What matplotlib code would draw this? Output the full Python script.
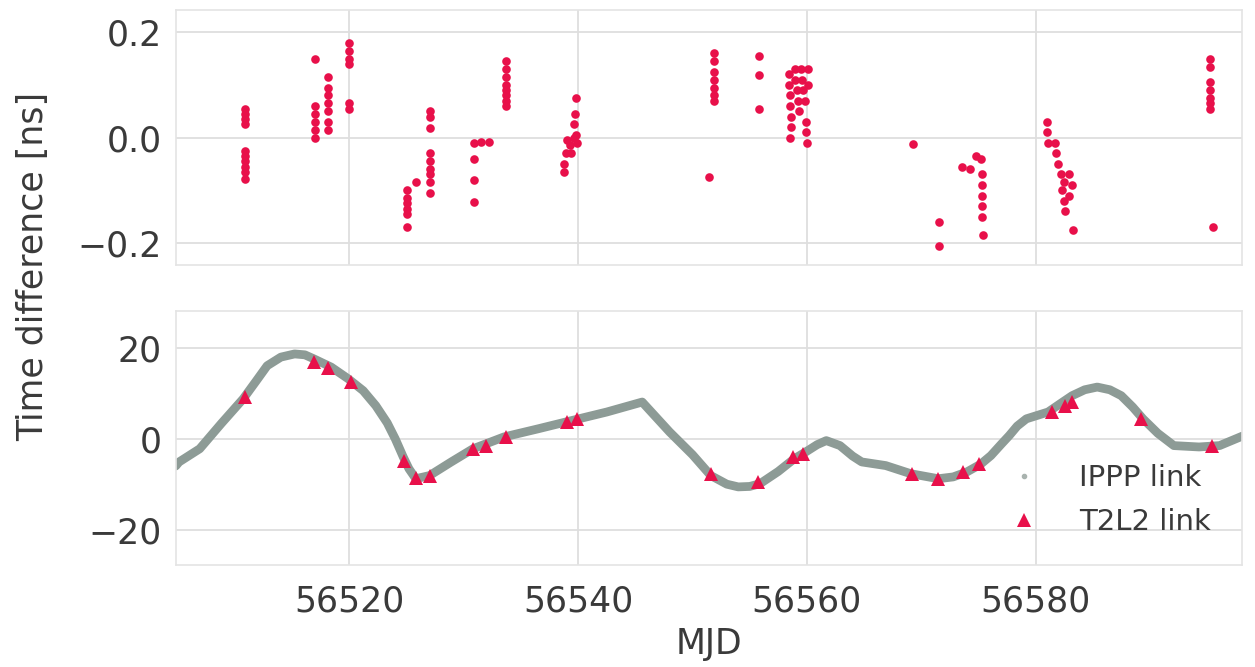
import matplotlib
matplotlib.use("Agg")
import matplotlib.pyplot as plt
import seaborn as sns
from matplotlib.lines import Line2D

sns.set_style("whitegrid")
plt.rcParams['font.family'] = ['DejaVu Sans']

# ---- top panel: T2L2 - IPPP residuals (ns) ----
top_mjd = [
    56510.9, 56510.9, 56510.9, 56510.9, 56510.9, 56510.9, 56510.9, 56510.9, 56510.9, 56510.9,
    56517.0, 56517.0, 56517.0, 56517.0, 56517.0, 56517.0,
    56518.1, 56518.1, 56518.1, 56518.1, 56518.1, 56518.1, 56518.1,
    56520.0, 56520.0, 56520.0, 56520.0, 56520.0, 56520.0,
    56525.0, 56525.0, 56525.0, 56525.0, 56525.0, 56525.0, 56525.8,
    56527.0, 56527.0, 56527.0, 56527.0, 56527.0, 56527.0, 56527.0, 56527.0, 56527.0,
    56530.9, 56530.9, 56530.9, 56530.9, 56531.5, 56532.2,
    56533.7, 56533.7, 56533.7, 56533.7, 56533.7, 56533.7, 56533.7, 56533.7,
    56539.8, 56539.7, 56539.6, 56539.8, 56539.0, 56539.3, 56539.9, 56538.9, 56538.8, 56538.8, 56539.4, 56539.6,
    56551.9, 56551.9, 56551.9, 56551.9, 56551.9, 56551.9, 56551.9, 56551.4,
    56555.8, 56555.8, 56555.8,
    56558.4, 56558.4, 56558.5, 56558.5, 56558.6, 56558.6, 56558.5, 56559.0, 56559.0, 56559.1,
    56559.2, 56559.3, 56559.5, 56559.6, 56559.7, 56559.8, 56559.9, 56560.0, 56559.9, 56560.1, 56560.1,
    56569.3,
    56571.6, 56571.6,
    56573.6, 56574.3, 56574.8, 56575.2, 56575.3, 56575.3, 56575.3, 56575.3, 56575.3, 56575.4,
    56581.0, 56581.0, 56581.1, 56581.7, 56581.8, 56582.0, 56582.2, 56582.5, 56582.9, 56582.3,
    56582.5, 56582.9, 56582.6, 56583.2, 56583.3,
    56595.3, 56595.3, 56595.3, 56595.3, 56595.3, 56595.3, 56595.3, 56595.5,
]
top_val = [
    0.055, 0.045, 0.035, 0.025, -0.025, -0.035, -0.045, -0.055, -0.065, -0.078,
    0.150, 0.060, 0.045, 0.030, 0.015, 0.000,
    0.115, 0.095, 0.080, 0.065, 0.050, 0.030, 0.015,
    0.180, 0.165, 0.150, 0.140, 0.065, 0.055,
    -0.100, -0.115, -0.125, -0.135, -0.145, -0.170, -0.085,
    0.050, 0.040, 0.018, -0.030, -0.045, -0.060, -0.070, -0.085, -0.105,
    -0.010, -0.040, -0.080, -0.122, -0.008, -0.008,
    0.145, 0.130, 0.115, 0.100, 0.090, 0.080, 0.070, 0.060,
    0.075, 0.045, 0.025, 0.005, -0.005, -0.015, -0.010, -0.030, -0.050, -0.065, -0.030, 0.000,
    0.160, 0.145, 0.125, 0.110, 0.095, 0.080, 0.070, -0.075,
    0.155, 0.118, 0.055,
    0.120, 0.100, 0.080, 0.060, 0.040, 0.020, 0.000, 0.130, 0.110, 0.090,
    0.070, 0.050, 0.130, 0.110, 0.090, 0.070, 0.030, -0.010, 0.010, 0.130, 0.100,
    -0.012,
    -0.160, -0.205,
    -0.055, -0.060, -0.035, -0.040, -0.070, -0.090, -0.110, -0.130, -0.150, -0.185,
    0.030, 0.010, -0.010, -0.010, -0.030, -0.050, -0.070, -0.085, -0.070, -0.100,
    -0.120, -0.110, -0.140, -0.090, -0.175,
    0.150, 0.135, 0.105, 0.090, 0.075, 0.065, 0.055, -0.170,
]

# ---- bottom panel: IPPP link curve and T2L2 link points (ns) ----
ippp_mjd = [56504.8, 56505.1, 56506.9, 56508.8, 56510.7, 56511.8, 56512.8, 56514.0, 56515.2,
            56516.1, 56516.9, 56518.4, 56519.9, 56521.2, 56522.3, 56523.3, 56524.0, 56524.7,
            56525.2, 56525.8, 56527.0, 56528.9, 56530.8, 56533.5, 56536.5, 56539.4, 56542.5,
            56545.6, 56548.0, 56550.0, 56551.6, 56553.0, 56554.0, 56555.0, 56555.9, 56557.5,
            56558.9, 56559.9, 56560.9, 56561.7, 56562.9, 56564.0, 56564.8, 56566.9, 56569.1,
            56571.5, 56572.8, 56574.0, 56575.2, 56576.1, 56577.0, 56577.7, 56578.4, 56579.2,
            56581.1, 56582.2, 56583.2, 56584.3, 56585.4, 56586.5, 56587.5, 56588.5, 56589.4,
            56590.7, 56592.1, 56594.3, 56596.1, 56598.1]
ippp_val = [-6.0, -5.1, -2.2, 3.4, 8.8, 12.6, 16.1, 18.0, 18.7,
            18.5, 17.6, 15.8, 13.2, 10.6, 7.3, 3.5, 0.0, -4.0,
            -6.6, -8.8, -8.1, -5.1, -2.2, 0.4, 2.2, 4.0, 5.9,
            8.1, 1.5, -3.5, -8.1, -10.0, -10.6, -10.5, -9.9, -7.2,
            -4.4, -2.9, -1.3, -0.4, -1.5, -3.8, -5.1, -5.9, -7.7,
            -8.8, -8.4, -7.3, -5.6, -3.7, -1.2, 0.7, 2.8, 4.4,
            5.9, 7.8, 9.5, 10.8, 11.4, 10.8, 9.5, 7.0, 4.4,
            1.2, -1.5, -1.8, -1.5, 0.6]

t2l2_mjd = [56510.9, 56516.9, 56518.1, 56520.1, 56524.8, 56525.8, 56527.0, 56530.8, 56531.9,
            56533.7, 56539.0, 56539.9, 56551.6, 56555.7, 56558.8, 56559.7, 56569.2, 56571.5,
            56573.7, 56575.1, 56581.4, 56582.6, 56583.2, 56589.2, 56595.4]
t2l2_val = [9.3, 17.0, 15.6, 12.5, -4.8, -8.6, -8.1, -2.2, -1.5,
            0.4, 3.7, 4.4, -7.7, -9.5, -4.0, -3.3, -7.7, -8.8,
            -7.3, -5.5, 5.9, 7.3, 8.1, 4.4, -1.5]

x_ticks = [56520, 56540, 56560, 56580]
top_yticks = [-0.2, 0.0, 0.2]
bot_yticks = [-20, 0, 20]

RED = '#e8104a'
GRAY = '#8d9b96'
TXT = '#3a3a3a'
FS = 25

fig = plt.figure(figsize=(12.55, 6.67), dpi=100)
ax1 = fig.add_axes([0.140, 0.6027, 0.850, 0.382])
ax2 = fig.add_axes([0.140, 0.153, 0.850, 0.381], sharex=ax1)

for ax in (ax1, ax2):
    ax.grid(True, color='#dedede', linewidth=1.3)
    for s in ax.spines.values():
        s.set_color('#e4e4e4')
        s.set_linewidth(1.2)
    ax.tick_params(axis='both', length=0, labelsize=FS, colors=TXT)
    ax.tick_params(axis='y', pad=10)
    ax.tick_params(axis='x', pad=14)

ax1.plot(top_mjd, top_val, 'o', color=RED, markersize=6.2, markeredgewidth=0)
ax1.set_ylim(-0.242, 0.242)
ax1.set_yticks(top_yticks)
ax1.set_yticklabels(['\u22120.2', '0.0', '0.2'])
plt.setp(ax1.get_xticklabels(), visible=False)

ax2.plot(ippp_mjd, ippp_val, '-', color=GRAY, linewidth=6.3, solid_capstyle='round',
         solid_joinstyle='round')
ax2.plot(t2l2_mjd, t2l2_val, '^', color=RED, markersize=10, markeredgewidth=0)
ax2.set_ylim(-27.8, 28.2)
ax2.set_yticks(bot_yticks)
ax2.set_xlim(56504.8, 56598.1)
ax2.set_xticks(x_ticks)
ax2.set_xticklabels([str(t) for t in x_ticks])
ax2.set_xlabel('MJD', fontsize=FS, color=TXT, labelpad=6)

handles = [Line2D([], [], marker='.', color='#a9b3af', linestyle='none', markersize=6),
           Line2D([], [], marker='^', color=RED, linestyle='none', markersize=10,
                  markeredgewidth=0)]
ax2.legend(handles, ['IPPP link', 'T2L2 link'], loc='lower right', frameon=False,
           fontsize=21, bbox_to_anchor=(0.995, 0.01), handletextpad=0.9, labelspacing=0.55,
           labelcolor=TXT)

fig.text(0.026, 0.60, 'Time difference [ns]', rotation=90, fontsize=FS,
         va='center', ha='center', color=TXT)

fig.savefig('out.png', dpi=100, facecolor='white')
